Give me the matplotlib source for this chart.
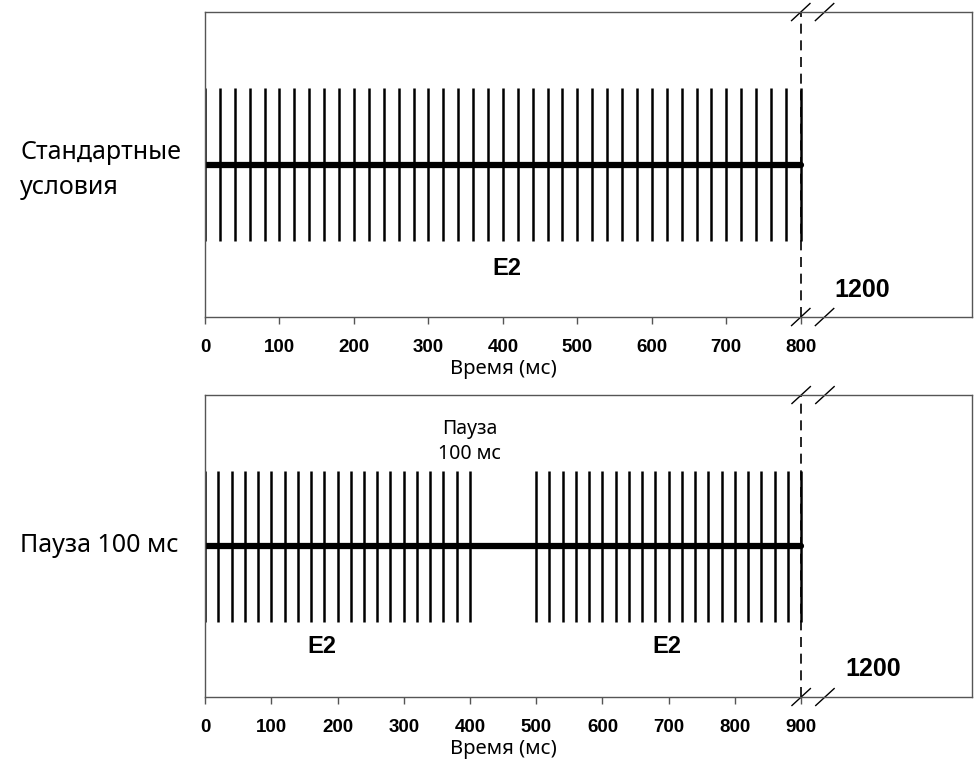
import matplotlib.pyplot as plt
from matplotlib.transforms import blended_transform_factory

# pulse times (ms)
standard_pulses = [0, 20, 40, 60, 80, 100, 120, 140, 160, 180, 200, 220, 240, 260,
                   280, 300, 320, 340, 360, 380, 400, 420, 440, 460, 480, 500, 520,
                   540, 560, 580, 600, 620, 640, 660, 680, 700, 720, 740, 760, 780, 800]
pause_pulses = [0, 20, 40, 60, 80, 100, 120, 140, 160, 180, 200, 220, 240, 260,
                280, 300, 320, 340, 360, 380, 400,
                500, 520, 540, 560, 580, 600, 620, 640, 660, 680, 700, 720, 740,
                760, 780, 800, 820, 840, 860, 880, 900]

standard_end = 800
pause_end = 900
tick_labels_top = [0, 100, 200, 300, 400, 500, 600, 700, 800]
tick_labels_bottom = [0, 100, 200, 300, 400, 500, 600, 700, 800, 900]
end_label = '1200'

body_font = ['Noto Sans', 'DejaVu Sans']
bold_font = ['Liberation Sans', 'DejaVu Sans']

fig = plt.figure(figsize=(9.74, 7.68), dpi=100)


def draw_panel(ax, pulses, end, ticks, xmax, e2_positions, e2_y, end_label_x, end_label_y):
    ax.set_xlim(0, xmax)
    ax.set_ylim(0, 1)
    ax.vlines(pulses, 0.25, 0.75, color='black', lw=1.8)
    ax.plot([0, end], [0.5, 0.5], color='black', lw=4.5, solid_capstyle='round')
    ax.axvline(end, color='black', lw=1.2, ls=(0, (6, 4)))

    for s in ax.spines.values():
        s.set_color('#555555')
        s.set_linewidth(1.0)
    ax.set_yticks([])
    ax.set_xticks(ticks)
    ax.set_xticklabels([str(t) for t in ticks], fontsize=13.5, fontweight='bold',
                       family=bold_font)
    ax.tick_params(axis='x', length=5, width=1.0, color='#555555', pad=11)

    for x in e2_positions:
        ax.text(x, e2_y, 'E2', fontsize=17, fontweight='bold', family=bold_font,
                ha='center', va='center')
    ax.text(end_label_x, end_label_y, end_label, fontsize=18, fontweight='bold',
            family=bold_font, ha='center', va='center')

    # axis break marks
    trans = blended_transform_factory(ax.transData, ax.transAxes)
    gap = xmax * 0.031
    for y in (0.0, 1.0):
        for x0 in (end, end + gap):
            ax.plot([x0 - xmax * 0.012, x0 + xmax * 0.012], [y - 0.028, y + 0.028],
                    color='black', lw=1.0, transform=trans, clip_on=False)

    ax.text(end / 2, -0.172, 'Время (мс)', fontsize=14.5, family=body_font,
            ha='center', va='center', transform=trans)


ax1 = fig.add_axes([0.2105, 0.5872, 0.7875, 0.3971])
draw_panel(ax1, standard_pulses, standard_end, tick_labels_top, 1030,
           [405], 0.16, 882, 0.089)

ax2 = fig.add_axes([0.2105, 0.0924, 0.7875, 0.3932])
draw_panel(ax2, pause_pulses, pause_end, tick_labels_bottom, 1158,
           [176, 697], 0.166, 1009, 0.093)
ax2.text(400, 0.845, 'Пауза\n100 мс', fontsize=14, family=body_font,
         ha='center', va='center', linespacing=1.35)

fig.text(20 / 974, 1 - 170 / 768, 'Стандартные\nусловия', fontsize=18,
         family=body_font, ha='left', va='center', linespacing=1.5)
fig.text(20 / 974, 1 - 546 / 768, 'Пауза 100 мс', fontsize=18,
         family=body_font, ha='left', va='center')

fig.savefig('out.png', dpi=100)
